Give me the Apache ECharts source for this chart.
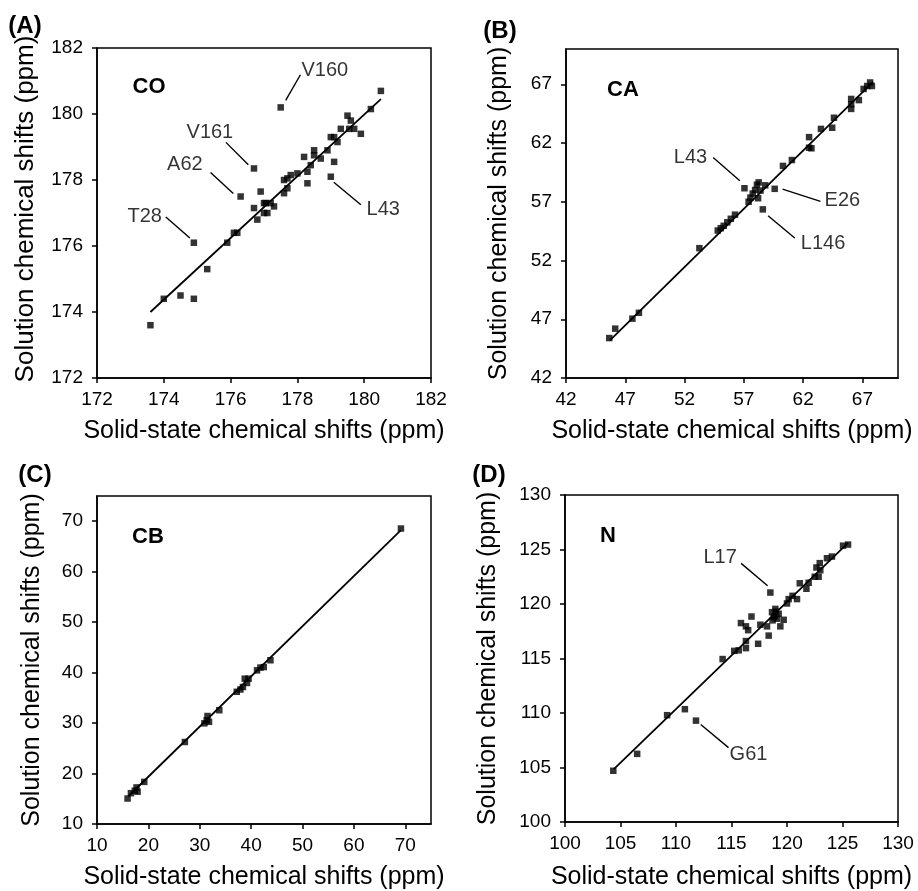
<!DOCTYPE html>
<html><head><meta charset="utf-8">
<script src="https://cdn.jsdelivr.net/npm/echarts@6/dist/echarts.min.js"></script>
<style>html,body{margin:0;padding:0;background:#fff}#c{width:918px;height:891px}</style>
</head><body><div id="c"></div>
<script>
// ---------- Panel A: CO ----------
const coTicks = [172, 174, 176, 178, 180, 182];
const coSolid = [173.6,174.0,174.5,174.9,174.9,175.3,175.9,176.1,176.2,176.3,176.7,176.7,176.9,176.8,177.0,177.05,177.2,177.0,177.1,177.3,177.5,177.6,177.6,177.7,177.7,177.8,178.0,178.2,178.3,178.3,178.4,178.5,178.5,178.7,178.9,179.0,179.1,179.0,179.1,179.2,179.3,179.5,179.6,179.55,179.7,179.9,180.2,180.5];
const coSolution = [173.6,174.4,174.5,174.4,176.1,175.3,176.1,176.4,176.4,177.5,178.35,177.15,177.65,176.8,177.3,177.3,177.3,177.0,177.0,177.2,180.2,177.6,178.0,177.75,178.05,178.15,178.2,178.7,178.25,177.9,178.45,178.75,178.9,178.65,178.9,179.3,178.55,178.1,179.3,179.15,179.55,179.95,179.8,179.55,179.55,179.4,180.15,180.7];
const coFitX = [173.6, 180.5];
const coFitY = [174.0, 180.45];
const coLabels = ['V160', 'V161', 'A62', 'T28', 'L43'];
const coLabelX = [178.82, 175.38, 174.63, 173.43, 180.57];
const coLabelY = [181.32, 179.44, 178.46, 176.88, 177.12];
const coLeadX1 = [177.65, 176.53, 176.08, 174.78, 179.09];
const coLeadY1 = [180.41, 178.46, 177.59, 176.24, 177.93];
const coLeadX2 = [178.09, 175.86, 175.40, 174.06, 179.90];
const coLeadY2 = [181.19, 179.14, 178.23, 176.88, 177.25];

// ---------- Panel B: CA ----------
const caTicks = [42, 47, 52, 57, 62, 67];
const caSolid = [45.65,46.15,47.6,48.15,53.25,54.8,55.05,55.3,55.6,55.9,56.25,57.05,57.4,57.55,57.75,57.95,58.1,58.2,58.25,58.4,58.6,58.8,59.6,60.3,61.05,62.5,62.5,62.7,63.5,64.45,64.6,66.05,66.05,66.05,66.7,67.1,67.4,67.65,67.8];
const caSolution = [45.4,46.2,47.05,47.55,53.05,54.55,54.75,54.95,55.25,55.55,55.9,58.15,57.0,57.35,57.7,58.0,58.45,57.3,58.65,57.95,56.35,58.4,58.1,60.05,60.55,62.5,61.6,61.55,63.2,63.3,64.15,65.75,65.3,64.9,65.65,66.6,66.85,67.15,66.85];
const caFitX = [45.7, 67.9];
const caFitY = [45.2, 67.2];
const caLabels = ['L43', 'E26', 'L146'];
const caLabelX = [52.5, 65.31, 63.68];
const caLabelY = [60.76, 57.14, 53.41];
const caLeadX1 = [54.41, 60.26, 59.04];
const caLeadY1 = [60.76, 58.08, 55.81];
const caLeadX2 = [56.66, 63.46, 61.29];
const caLeadY2 = [58.78, 57.03, 53.92];

// ---------- Panel C: CB ----------
const cbTicks = [10, 20, 30, 40, 50, 60, 70];
const cbSolid = [15.95,16.6,17.35,17.7,17.9,19.2,27.1,30.9,31.35,31.5,31.8,33.8,37.2,37.9,38.4,38.75,39.2,39.5,41.15,41.8,42.45,43.75,69.15];
const cbSolution = [15.05,16.1,16.6,17.25,16.4,18.35,26.25,29.95,30.55,31.4,30.25,32.55,36.2,36.65,37.15,38.8,37.95,38.8,40.45,41.0,41.1,42.45,68.55];
const cbFitX = [16.1, 69.1];
const cbFitY = [15.5, 68.2];

// ---------- Panel D: N ----------
const nTicks = [100, 105, 110, 115, 120, 125, 130];
const nSolid = [104.35,106.5,109.2,110.8,111.8,114.2,115.25,115.65,116.3,116.3,115.85,116.3,116.5,116.8,117.4,117.6,118.2,118.35,118.5,118.65,118.8,118.95,119.1,119.25,119.4,119.7,118.7,119.0,118.9,120.0,120.15,120.5,120.9,121.15,121.75,121.95,122.5,122.85,122.65,122.95,123.0,123.6,124.05,125.05,125.5];
const nSolution = [104.7,106.25,109.8,110.35,109.3,114.95,115.7,115.75,115.95,116.6,118.25,117.95,117.6,118.85,116.35,118.1,117.95,117.1,121.05,119.25,118.8,119.55,118.65,119.1,117.95,118.55,118.5,119.3,118.9,120.05,120.45,120.75,120.45,121.9,121.4,121.95,122.5,122.5,123.35,123.75,123.1,124.2,124.35,125.35,125.45];
const nFitX = [104.4, 125.5];
const nFitY = [104.85, 125.6];
const nLabels = ['L17', 'G61'];
const nLabelX = [113.98, 116.53];
const nLabelY = [124.24, 106.21];
const nLeadX1 = [115.87, 112.23];
const nLeadY1 = [123.73, 108.94];
const nLeadX2 = [118.25, 114.73];
const nLeadY2 = [121.67, 106.82];

const FONT = '"Liberation Sans", Arial, Helvetica, sans-serif';
const zip = (a, b) => a.map((v, i) => [v, b[i]]);

const panels = [
  { grid: {left: 97, top: 48, width: 334, height: 330}, xr: [172, 182], yr: [172, 182], ticks: coTicks,
    sx: coSolid, sy: coSolution, fx: coFitX, fy: coFitY,
    lab: coLabels, lx: coLabelX, ly: coLabelY, l1x: coLeadX1, l1y: coLeadY1, l2x: coLeadX2, l2y: coLeadY2,
    yGap: 58, ySize: 26, yPad: [0, 0, 0, 8], xGap: 41 },
  { grid: {left: 566, top: 49, width: 332, height: 329}, xr: [42, 70], yr: [42, 70], ticks: caTicks,
    sx: caSolid, sy: caSolution, fx: caFitX, fy: caFitY,
    lab: caLabels, lx: caLabelX, ly: caLabelY, l1x: caLeadX1, l1y: caLeadY1, l2x: caLeadX2, l2y: caLeadY2,
    yGap: 54, ySize: 25, yPad: [0, 0, 0, 0], xGap: 41 },
  { grid: {left: 97, top: 496, width: 334, height: 329}, xr: [10, 75], yr: [10, 75], ticks: cbTicks,
    sx: cbSolid, sy: cbSolution, fx: cbFitX, fy: cbFitY,
    lab: [], lx: [], ly: [], l1x: [], l1y: [], l2x: [], l2y: [],
    yGap: 52, ySize: 25, yPad: [0, 0, 0, 0], xGap: 41 },
  { grid: {left: 565, top: 495, width: 333, height: 330}, xr: [100, 130], yr: [100, 130], ticks: nTicks,
    sx: nSolid, sy: nSolution, fx: nFitX, fy: nFitY,
    lab: nLabels, lx: nLabelX, ly: nLabelY, l1x: nLeadX1, l1y: nLeadY1, l2x: nLeadX2, l2y: nLeadY2,
    yGap: 64, ySize: 25, yPad: [0, 0, 0, 0], xGap: 43 }
];

const grids = [], xAxes = [], yAxes = [], series = [];
panels.forEach((p, i) => {
  grids.push(Object.assign({show: true, borderColor: '#000', borderWidth: 1.5, backgroundColor: 'transparent'}, p.grid));
  const common = {
    type: 'value', gridIndex: i, nameLocation: 'middle',
    axisLine: {show: true, onZero: false, lineStyle: {color: '#000', width: 1.5}},
    axisTick: {show: true, inside: false, length: 5, lineStyle: {color: '#000', width: 1.5}, customValues: p.ticks},
    axisLabel: {customValues: p.ticks, fontSize: 19, color: '#000', fontFamily: FONT},
    splitLine: {show: false}
  };
  xAxes.push(Object.assign({}, common, {
    min: p.xr[0], max: p.xr[1], name: 'Solid-state chemical shifts (ppm)', nameGap: p.xGap,
    nameTextStyle: {fontSize: 25, color: '#000', fontFamily: FONT},
    axisLabel: Object.assign({}, common.axisLabel, {margin: 12})
  }));
  yAxes.push(Object.assign({}, common, {
    min: p.yr[0], max: p.yr[1], name: 'Solution chemical shifts (ppm)', nameGap: p.yGap,
    nameTextStyle: {fontSize: p.ySize, color: '#000', fontFamily: FONT, padding: p.yPad},
    axisLabel: Object.assign({}, common.axisLabel, {margin: 14})
  }));
  series.push({
    type: 'line', xAxisIndex: i, yAxisIndex: i, data: zip(p.fx, p.fy), symbol: 'none',
    lineStyle: {color: '#000', width: 1.8}, silent: true, z: 2
  });
  series.push({
    type: 'scatter', xAxisIndex: i, yAxisIndex: i, data: zip(p.sx, p.sy), symbol: 'rect', symbolSize: 6.5,
    itemStyle: {color: '#000'}, silent: true, z: 3
  });
  if (p.lab.length) {
    series.push({
      type: 'lines', coordinateSystem: 'cartesian2d', xAxisIndex: i, yAxisIndex: i, silent: true, z: 3,
      lineStyle: {color: '#000', width: 1.4, opacity: 1},
      data: p.lab.map((n, k) => ({coords: [[p.l1x[k], p.l1y[k]], [p.l2x[k], p.l2y[k]]]}))
    });
    series.push({
      type: 'scatter', xAxisIndex: i, yAxisIndex: i, silent: true, z: 4, symbolSize: 1,
      itemStyle: {color: 'rgba(0,0,0,0)'},
      data: p.lab.map((n, k) => [p.lx[k], p.ly[k], n]),
      label: {show: true, position: 'inside', formatter: q => q.data[2], fontSize: 20, color: '#000', fontFamily: FONT}
    });
  }
});

const txt = (x, y, text, size) => ({
  type: 'text', silent: true, z: 10,
  style: {x: x, y: y, text: text, font: 'bold ' + size + 'px ' + FONT, fill: '#000',
          align: 'center', verticalAlign: 'middle', textAlign: 'center', textVerticalAlign: 'middle'}
});

const chart = echarts.init(document.getElementById('c'), null, {renderer: 'canvas'});
chart.setOption({
  animation: false,
  backgroundColor: '#fff',
  textStyle: {fontFamily: FONT},
  grid: grids, xAxis: xAxes, yAxis: yAxes, series: series,
  graphic: [
    txt(25, 26, '(A)', 24), txt(500, 31, '(B)', 24), txt(35, 475, '(C)', 24), txt(489, 475, '(D)', 24),
    txt(149, 87, 'CO', 22), txt(623, 90, 'CA', 22), txt(148, 537, 'CB', 22), txt(608, 536, 'N', 22)
  ]
});
</script></body></html>
